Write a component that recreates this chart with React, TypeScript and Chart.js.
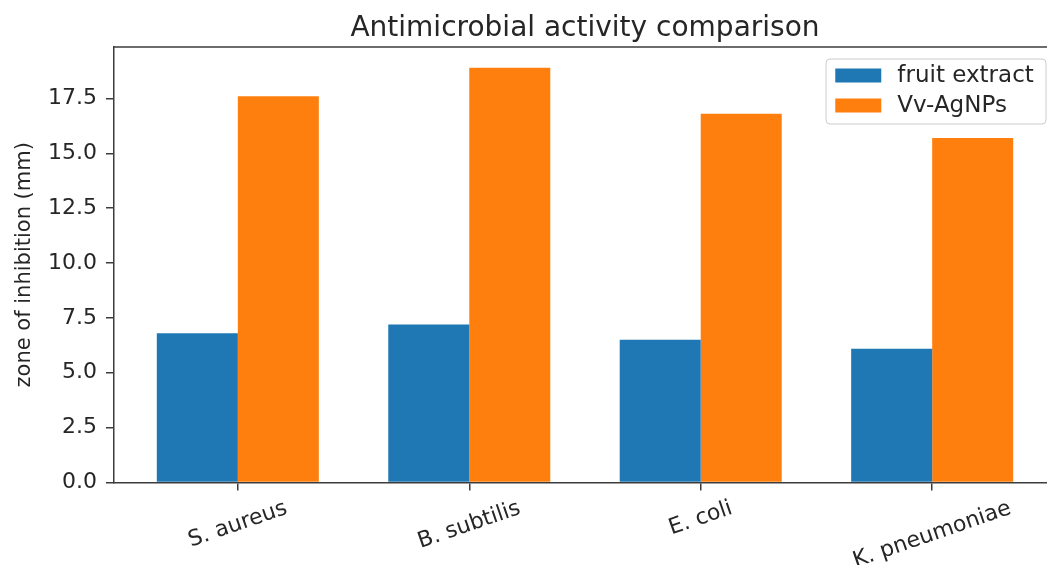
import React, { useEffect, useRef } from "react";
import { Chart, registerables } from "chart.js";

Chart.register(...registerables);

const categories = ["S. aureus", "B. subtilis", "E. coli", "K. pneumoniae"];
const fruitExtract = [6.8, 7.2, 6.5, 6.1];
const vvAgNPs = [17.6, 18.9, 16.8, 15.7];
const yTicks = [0, 2.5, 5, 7.5, 10, 12.5, 15, 17.5];
const seriesLabels = ["fruit extract", "Vv-AgNPs"];
const seriesColors = ["#1f77b4", "#ff7f0e"];
const titleText = "Antimicrobial activity comparison";
const yTitle = "zone of inhibition (mm)";

const FONT = "'DejaVu Sans', 'Liberation Sans', sans-serif";
const INK = "#262626";
const SPINE = "#3c3c3c";
const ROT = (19 * Math.PI) / 180;

export default function App() {
  const ref = useRef<HTMLCanvasElement>(null);

  useEffect(() => {
    const canvas = ref.current;
    if (!canvas) return;

    const n = categories.length;
    const halfGroup = 0.35;
    const span = n - 1 + 2 * halfGroup;
    const xMin = -halfGroup - 0.05 * span;
    const xMax = n - 1 + halfGroup + 0.05 * span;
    const yMax = Math.max(...vvAgNPs, ...fruitExtract) * 1.05;

    const framePlugin = {
      id: "frame",
      afterDraw(chart: any) {
        const { ctx, chartArea } = chart;
        ctx.save();
        ctx.strokeStyle = SPINE;
        ctx.lineWidth = 1.5;
        ctx.beginPath();
        ctx.moveTo(chartArea.left, chartArea.top);
        ctx.lineTo(chartArea.right, chartArea.top);
        ctx.lineTo(chartArea.right, chartArea.bottom);
        ctx.stroke();
        ctx.restore();
      },
    };

    const catLabelPlugin = {
      id: "catLabels",
      afterDraw(chart: any) {
        const { ctx } = chart;
        const xs = chart.scales.x;
        const size = 22;
        ctx.save();
        ctx.fillStyle = INK;
        ctx.font = `${size}px ${FONT}`;
        ctx.textAlign = "center";
        ctx.textBaseline = "middle";
        categories.forEach((c, i) => {
          const x = xs.getPixelForValue(i);
          const w = ctx.measureText(c).width;
          const h = w * Math.sin(ROT) + size * 0.8 * Math.cos(ROT);
          const cy = chart.chartArea.bottom + 17 + h / 2;
          ctx.save();
          ctx.translate(x, cy);
          ctx.rotate(-ROT);
          ctx.fillText(c, 0, 0);
          ctx.restore();
        });
        ctx.restore();
      },
    };

    const legendPlugin = {
      id: "innerLegend",
      afterDraw(chart: any) {
        const { ctx, chartArea } = chart;
        const size = 23;
        ctx.save();
        ctx.font = `${size}px ${FONT}`;
        const ds = chart.data.datasets;
        const textW = Math.max(...ds.map((d: any) => ctx.measureText(d.label).width));
        const pad = 0.4 * size;
        const handleW = 2 * size;
        const textPad = 0.7 * size;
        const boxW = pad + handleW + textPad + textW + pad + 3;
        const boxH = 65;
        const right = chartArea.right - 10;
        const left = right - boxW;
        const top = chartArea.top + 12;
        const r = 4;
        ctx.beginPath();
        ctx.moveTo(left + r, top);
        ctx.lineTo(left + boxW - r, top);
        ctx.arcTo(left + boxW, top, left + boxW, top + r, r);
        ctx.lineTo(left + boxW, top + boxH - r);
        ctx.arcTo(left + boxW, top + boxH, left + boxW - r, top + boxH, r);
        ctx.lineTo(left + r, top + boxH);
        ctx.arcTo(left, top + boxH, left, top + boxH - r, r);
        ctx.lineTo(left, top + r);
        ctx.arcTo(left, top, left + r, top, r);
        ctx.closePath();
        ctx.fillStyle = "rgba(255,255,255,0.8)";
        ctx.fill();
        ctx.strokeStyle = "#cccccc";
        ctx.lineWidth = 1;
        ctx.stroke();
        ds.forEach((d: any, i: number) => {
          const cy = top + 16.5 + i * 30;
          ctx.fillStyle = d.backgroundColor;
          ctx.fillRect(left + pad, cy - 7, handleW, 14);
          ctx.fillStyle = INK;
          ctx.textAlign = "left";
          ctx.textBaseline = "middle";
          ctx.fillText(d.label, left + pad + handleW + textPad, cy + 1);
        });
        ctx.restore();
      },
    };

    const gridCommon = {
      display: true,
      drawOnChartArea: false,
      drawTicks: true,
      offset: false,
      tickLength: 8,
      color: SPINE,
      lineWidth: 1.5,
    };
    const borderCommon = { display: true, color: SPINE, width: 1.5, z: 1 };

    const chart = new Chart(canvas, {
      type: "bar",
      data: {
        datasets: [fruitExtract, vvAgNPs].map((vals, s) => ({
          label: seriesLabels[s],
          data: vals.map((v, i) => ({ x: i, y: v })),
          backgroundColor: seriesColors[s],
          borderWidth: 0,
          categoryPercentage: 0.7,
          barPercentage: 1.0,
        })),
      },
      options: {
        responsive: false,
        animation: false,
        devicePixelRatio: 1,
        layout: { padding: { left: 0, right: 14, top: 0, bottom: 0 } },
        plugins: {
          legend: { display: false },
          tooltip: { enabled: false },
          title: {
            display: true,
            text: titleText,
            fullSize: false,
            color: INK,
            font: { family: FONT, size: 28, weight: "normal" },
            padding: { top: 12, bottom: 1.4 },
          },
        },
        scales: {
          x: {
            type: "linear",
            min: xMin,
            max: xMax,
            offset: false,
            grid: gridCommon,
            border: borderCommon,
            ticks: { display: false },
            afterBuildTicks: (s: any) => {
              s.ticks = categories.map((_, i) => ({ value: i }));
            },
            afterFit: (s: any) => {
              s.height = 82.5;
            },
          },
          y: {
            type: "linear",
            min: 0,
            max: yMax,
            grid: gridCommon,
            border: borderCommon,
            ticks: {
              color: INK,
              font: { family: FONT, size: 22 },
              padding: 9,
              callback: (v: any) => Number(v).toFixed(1),
            },
            afterBuildTicks: (s: any) => {
              s.ticks = yTicks.map((v) => ({ value: v }));
            },
            afterFit: (s: any) => {
              s.width = 114;
            },
            title: {
              display: true,
              text: yTitle,
              color: INK,
              font: { family: FONT, size: 21 },
              padding: { top: 12, bottom: 0 },
            },
          },
        },
      } as any,
      plugins: [framePlugin, catLabelPlugin, legendPlugin],
    });

    return () => chart.destroy();
  }, []);

  return (
    <div
      style={{
        position: "fixed",
        left: 0,
        top: 0,
        width: 1047,
        height: 565,
        overflow: "hidden",
        background: "#ffffff",
      }}
    >
      <canvas ref={ref} width={1070} height={565} style={{ display: "block" }} />
    </div>
  );
}
